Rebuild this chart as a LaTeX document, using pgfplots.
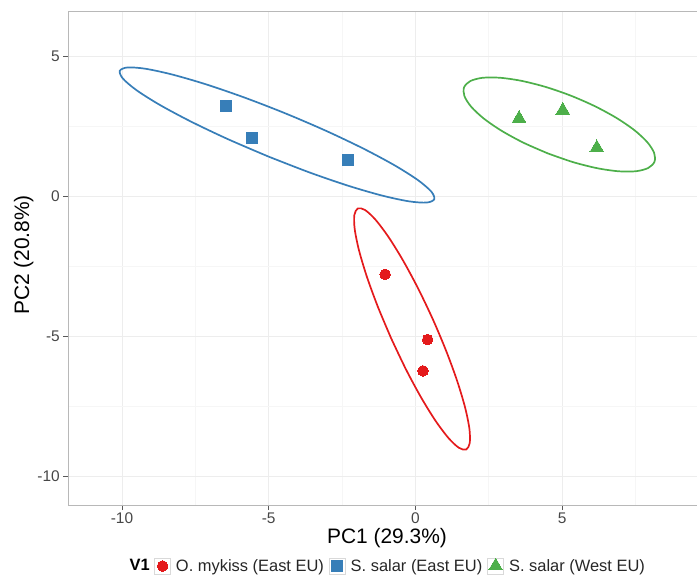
\documentclass[border=0pt]{standalone}
\usepackage{fontspec}
\setmainfont{Liberation Sans}
\usepackage{pgfplots}
\pgfplotsset{compat=1.18}
\definecolor{cred}{HTML}{E41A1C}
\definecolor{cblue}{HTML}{377EB8}
\definecolor{cgreen}{HTML}{4DAF4A}
\begin{document}
\begin{tikzpicture}
\useasboundingbox (0,0) rectangle (697bp,576bp);
\begin{axis}[
  at={(68bp,71bp)}, anchor=south west,
  scale only axis, width=629bp, height=494bp,
  xmin=-11.84, xmax=9.60, ymin=-11.04, ymax=6.61,
  clip=false,
  xtick={-10,-5,0,5}, ytick={-10,-5,0,5},
  minor xtick={-7.5,-2.5,2.5,7.5}, minor ytick={-7.5,-2.5,2.5},
  grid=both,
  major grid style={draw=black!7, line width=0.6bp},
  minor grid style={draw=black!3.5, line width=0.6bp},
  axis line style={draw=none},
  tick align=outside, major tick length=5bp, minor tick length=0pt,
  xtick pos=bottom, ytick pos=left,
  tick style={draw=black!65, line width=0.7bp},
  /pgf/number format/assume math mode=true,
  ticklabel style={font=\fontsize{15.5}{18}\selectfont, text=black!72, inner sep=0pt},
  xticklabel style={yshift=-3bp},
  yticklabel style={xshift=-3bp},
  xlabel={PC1 (29.3\%)}, ylabel={PC2 (20.8\%)},
  label style={font=\fontsize{21}{25}\selectfont, inner sep=0pt},
  xlabel style={at={(rel axis cs:0.5072,-0.0664)}, anchor=center},
  ylabel style={at={(rel axis cs:-0.0704,0.506)}, anchor=center},
  legend columns=3,
  legend style={at={(0.1367,-0.1235)}, anchor=west, draw=none, fill=none, inner sep=0pt,
    font=\fontsize{16.5}{19}\selectfont, column sep=5bp, nodes={inner sep=0pt, text=black!85}},
  legend image code/.code={\draw[draw=black!15, fill=white, line width=0.8bp] (0bp,-8bp) rectangle (16bp,8bp); \draw[#1] plot coordinates {(8bp,0bp)};},
]
% ellipses
\addplot[cblue, line width=1.7bp, smooth, forget plot] coordinates {
(-5.014,1.412) (-6.391,2.032) (-7.654,2.662) (-8.716,3.258) (-9.507,3.782) (-9.969,4.196)
(-10.075,4.472) (-9.815,4.592) (-9.208,4.548) (-8.294,4.342) (-7.136,3.990) (-5.813,3.513)
(-4.416,2.946) (-3.039,2.326) (-1.776,1.696) (-0.714,1.100) (0.077,0.576) (0.539,0.162)
(0.645,-0.114) (0.385,-0.234) (-0.222,-0.190) (-1.136,0.016) (-2.294,0.368) (-3.617,0.845)
(-5.014,1.412)};
\addplot[cred, line width=1.7bp, smooth, forget plot] coordinates {
(-0.825,-5.085) (-1.278,-3.958) (-1.652,-2.886) (-1.921,-1.941) (-2.067,-1.187) (-2.079,-0.677)
(-1.958,-0.443) (-1.710,-0.503) (-1.354,-0.853) (-0.913,-1.468) (-0.418,-2.307) (0.098,-3.312)
(0.600,-4.415) (1.053,-5.542) (1.427,-6.614) (1.696,-7.559) (1.842,-8.313) (1.854,-8.823)
(1.733,-9.057) (1.485,-8.997) (1.129,-8.647) (0.688,-8.032) (0.193,-7.193) (-0.323,-6.188)
(-0.825,-5.085)};
\addplot[cgreen, line width=1.7bp, smooth, forget plot] coordinates {
(4.520,1.520) (3.693,1.900) (2.949,2.324) (2.338,2.763) (1.903,3.189) (1.672,3.571)
(1.661,3.884) (1.872,4.106) (2.289,4.223) (2.885,4.225) (3.618,4.114) (4.439,3.897)
(5.292,3.588) (6.119,3.208) (6.863,2.784) (7.474,2.345) (7.909,1.919) (8.140,1.537)
(8.151,1.224) (7.940,1.002) (7.523,0.885) (6.927,0.883) (6.194,0.994) (5.373,1.211)
(4.520,1.520)};
% points
\addplot[only marks, mark=*, mark size=5.3bp, mark options={draw=cred, fill=cred, line width=0pt}] coordinates {
(-1.03,-2.80) (0.42,-5.13) (0.26,-6.25)};
\addlegendentry{O. mykiss (East EU)}
\addplot[only marks, mark=square*, mark size=5.4bp, mark options={draw=cblue, fill=cblue, line width=0pt}] coordinates {
(-6.45,3.225) (-5.56,2.06) (-2.29,1.29)};
\addlegendentry{S. salar (East EU)}
\addplot[only marks, mark=triangle*, mark size=7.9bp, mark options={draw=cgreen, fill=cgreen, line width=0pt}] coordinates {
(3.535,2.77) (5.025,3.06) (6.185,1.72)};
\addlegendentry{S. salar (West EU)}
% panel border
\draw[black!28, line width=0.9bp] (rel axis cs:0,0) -- (rel axis cs:0,1) -- (rel axis cs:1,1);
\draw[black!28, line width=0.9bp] (rel axis cs:0,0) -- (rel axis cs:1,0);
\node[anchor=base east, inner sep=0pt, font=\bfseries\fontsize{16.5}{19}\selectfont] at (rel axis cs:0.1304,-0.1326) {V1};
\end{axis}
\end{tikzpicture}
\end{document}
